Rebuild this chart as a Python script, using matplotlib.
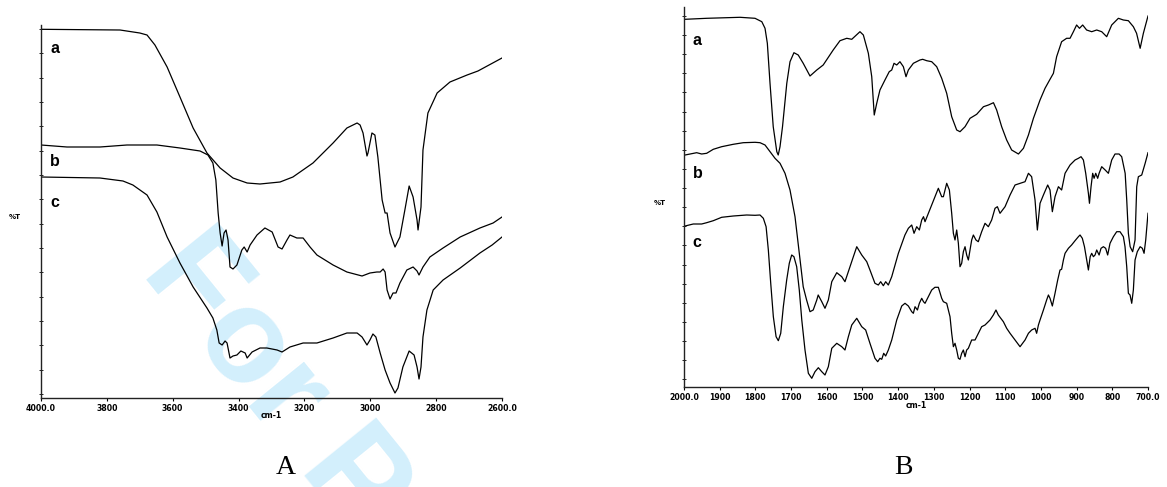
import matplotlib
matplotlib.use("Agg")
import matplotlib.pyplot as plt
import numpy as np

# ---------------- Panel A (4000-2600 cm-1) ----------------
A_a_wn = [4000, 3760, 3700, 3678, 3654, 3617, 3578, 3538, 3496, 3456, 3417, 3374, 3335, 3274,
          3235, 3174, 3113, 3071, 3040, 3031, 3022, 3010, 3007, 2995, 2986, 2977, 2964, 2955,
          2949, 2940, 2925, 2910, 2895, 2882, 2870, 2858, 2855, 2846, 2840, 2825, 2797, 2758,
          2706, 2673, 2600]
A_a_T = [368.7, 368, 365, 363, 353, 331, 301, 270, 245, 230, 220, 215, 214, 216,
         221, 235, 255, 270, 275, 273, 265, 242, 245, 265, 263, 241, 198, 185,
         185, 165, 151, 161, 188, 212, 201, 178, 168, 191, 248, 285, 305, 316,
         323, 327, 340]

A_b_wn = [4000, 3921, 3821, 3739, 3648, 3578, 3517, 3493, 3478, 3469, 3462, 3456, 3450, 3444,
          3438, 3432, 3426, 3417, 3405, 3390, 3383, 3374, 3365, 3344, 3320, 3298, 3280, 3268,
          3253, 3244, 3223, 3204, 3183, 3162, 3113, 3071, 3025, 3001, 2980, 2970, 2961, 2955,
          2949, 2940, 2931, 2922, 2910, 2889, 2870, 2858, 2852, 2840, 2819, 2779, 2727, 2667,
          2627, 2600]
A_b_T = [253, 251, 251, 253, 253, 250, 247, 243, 235, 218, 185, 165, 152, 165,
         168, 158, 131, 129, 133, 148, 151, 146, 153, 163, 170, 166, 151, 149,
         158, 163, 160, 160, 151, 143, 133, 126, 122, 125, 126, 126, 129, 126,
         108, 99, 105, 105, 115, 128, 131, 127, 123, 131, 141, 150, 161, 170,
         175, 181]

A_c_wn = [4000, 3821, 3751, 3721, 3678, 3648, 3617, 3578, 3538, 3496, 3478, 3466, 3459, 3450,
          3441, 3435, 3426, 3417, 3405, 3393, 3380, 3374, 3359, 3335, 3314, 3283, 3268, 3244,
          3204, 3162, 3113, 3071, 3040, 3025, 3010, 3001, 2992, 2983, 2970, 2955, 2940, 2925,
          2916, 2901, 2882, 2867, 2858, 2852, 2846, 2840, 2828, 2809, 2779, 2727, 2667, 2630,
          2600]
A_c_T = [221, 220, 217, 213, 203, 186, 161, 135, 111, 90, 80, 68, 55, 53,
         57, 55, 40, 42, 43, 47, 45, 40, 46, 50, 50, 48, 46, 51,
         55, 55, 60, 65, 65, 61, 53, 58, 64, 61, 45, 28, 15, 5,
         10, 31, 47, 43, 31, 19, 31, 61, 88, 108, 118, 130, 145, 153,
         161]

# ---------------- Panel B (2000-700 cm-1) ----------------
B_a_wn = [1997, 1936.5, 1843, 1801, 1782, 1773, 1766.5, 1759, 1750, 1740, 1736, 1731, 1724, 1712,
          1703, 1692, 1680, 1666, 1647, 1628, 1610, 1582, 1563, 1544, 1530, 1507, 1497.5, 1483.5,
          1474, 1467, 1460, 1451, 1437, 1425, 1418, 1411.6, 1404, 1395, 1385.4, 1378, 1371.4,
          1357.4, 1339, 1331.3, 1320, 1306, 1292, 1278, 1264, 1250, 1236, 1226.7, 1212.6, 1198.6,
          1180, 1161, 1147, 1133, 1124, 1110, 1096, 1082, 1063, 1049, 1035, 1021, 1002.5, 988.5,
          974.5, 965, 956, 942, 928, 918.4, 909, 900, 892, 883, 872, 857.7, 843.7, 829.7, 815.7,
          801.7, 783, 769, 755, 741, 732, 722, 713, 700]
B_a_T = [367.7, 368.7, 369.7, 368.7, 365.3, 358.7, 343.7, 303.7, 260.3, 235.3, 232, 240.3, 260.3, 303.7,
         325.3, 334.3, 332, 323.7, 311, 317, 322, 337, 346.3, 348.7, 347.7, 355.3, 352, 333.7,
         310.3, 272, 283.7, 297, 307, 315.3, 317, 323.7, 322, 325.3, 320.3, 310.3, 317,
         323.7, 327, 327.7, 326.3, 325.3, 320.3, 308.7, 293.7, 270.3, 257, 255.3, 260.3, 268.7,
         272.7, 280.3, 282, 284.3, 277, 260.3, 247, 237, 233, 238.7, 252, 268.7, 287, 298.7,
         307.7, 313.7, 330.3, 345.3, 348.7, 348.7, 355.3, 362, 358.7, 362, 357, 355.3, 357, 355.3, 350.3,
         362, 368.7, 367, 366.3, 360.3, 353.7, 338.7, 353.7, 371]

B_b_wn = [1997, 1983, 1964.5, 1950.5, 1936.5, 1918, 1894.5, 1862, 1834, 1801, 1787, 1773, 1759, 1745,
          1731, 1717, 1703, 1689, 1677, 1666, 1656.5, 1647, 1638, 1628, 1624, 1614, 1605, 1595.6,
          1586, 1572, 1558, 1549, 1535, 1525.5, 1516, 1502, 1488, 1479, 1465, 1455.5, 1449, 1441.5,
          1435, 1427.5, 1418, 1399.4, 1381, 1371.4, 1362, 1355.5, 1348, 1340.6, 1334, 1329, 1324.7,
          1315.4, 1306, 1297, 1287.4, 1278, 1273.3, 1264, 1256.5, 1250, 1245.3, 1240.7, 1236, 1231.3,
          1226.7, 1222, 1217.3, 1212.6, 1208, 1203.3, 1194, 1189.3, 1182, 1175.5, 1166, 1156.6,
          1147.3, 1138, 1128.6, 1122, 1114.6, 1100.5, 1086.5, 1072.5, 1058.5, 1044.5, 1035, 1026,
          1016.5, 1010, 1002.5, 993, 981, 974.5, 968, 960.5, 951, 942, 932.4, 918.4, 904.4, 895,
          887.6, 881, 874.5, 867, 864, 859.6, 855, 851, 846.5, 841, 837, 829.7, 820, 811, 801.7,
          792.4, 781, 773.7, 764, 759.6, 755, 750, 743, 736.3, 731.6, 727, 717.6, 708, 700]
B_b_T = [232, 233, 234.3, 233, 233.7, 237.7, 240.3, 242.7, 244.3, 244.7, 244.3, 242, 235.3, 228.7,
         223.7, 213.7, 197, 170.3, 133.7, 100.3, 87, 75.3, 77, 87, 92, 85.3, 78.7, 87,
         105.3, 114.3, 110.3, 105.3, 120.3, 130.3, 140.3, 132, 125.3, 117, 103.7, 102, 105.3, 101.3,
         105.3, 102, 110.3, 133.7, 152, 158.7, 162, 153.7, 160.3, 157, 167, 170.3, 165.3,
         173.7, 182, 190.3, 198.7, 190.3, 190.3, 203.7, 197, 173.7, 153.7, 147, 157, 143.7,
         120.3, 123.7, 135.3, 140.3, 132, 127, 147, 152, 147, 145.3, 155.3, 163.7,
         160.3, 167, 178.7, 180.3, 173.7, 180.3, 192, 202, 203.7, 205.3, 213.7, 210.3,
         187, 157, 183.7, 192, 202, 197, 175.3, 190.3, 200.3, 197, 213.7, 222, 227, 228.7,
         230.3, 227, 213.7, 193.7, 183.7, 200.3, 213.7, 208.7, 213.7, 208.7, 213.7, 220.3, 217, 213.7, 227,
         233, 233, 230.3, 213.7, 187, 153.7, 140.3, 135.3, 147, 200.3, 210.3, 212, 223.7, 234.3]

B_c_wn = [1997, 1974, 1950.5, 1936.5, 1918, 1894.5, 1862, 1824.4, 1801, 1787, 1777.7, 1770, 1763.7, 1757,
          1749.7, 1742, 1735.7, 1729, 1721.7, 1712.3, 1705, 1698.3, 1692, 1684.3, 1677, 1670, 1661,
          1651.6, 1642, 1633, 1623.6, 1614, 1605, 1595.6, 1586, 1572, 1558, 1549, 1539.5, 1530, 1516,
          1502, 1491, 1479, 1465, 1457.3, 1451, 1446, 1440.5, 1435, 1427.5, 1418, 1404, 1390, 1380.8,
          1371.4, 1362, 1357.4, 1352.7, 1346, 1340.6, 1334, 1329, 1324.7, 1315.4, 1306, 1297, 1287.4,
          1278, 1273.3, 1264, 1254.7, 1250, 1245.3, 1240.7, 1236, 1231.3, 1226.7, 1222, 1217.3,
          1212.6, 1208, 1203.3, 1194, 1184.6, 1175.3, 1166, 1156.6, 1142.6, 1133.3, 1126, 1119.4,
          1105.2, 1096, 1086.5, 1072.5, 1058.5, 1044.5, 1035, 1026, 1016.5, 1012, 1007, 1002.5, 993,
          984, 979, 974.5, 968, 960.5, 953, 946.5, 942, 937, 932.4, 923, 914, 904.4, 895, 890.4, 884,
          878, 871.7, 867, 862, 857.7, 853, 848.4, 843.7, 837, 831.6, 825, 818.6, 813, 806.4, 797,
          787.7, 778.4, 769, 764.4, 759.6, 755, 750.3, 745.6, 741, 736.3, 730, 722, 715.8, 711, 706.4, 700]
B_c_T = [161, 163, 163, 164.3, 166.3, 169.7, 171, 172, 171.7, 172, 168.7, 160.3, 137, 103.7,
         70.3, 50.3, 46.3, 53.7, 80.3, 107, 123.7, 132, 130.3, 120.3, 97, 67, 37,
         13.7, 8.7, 15.3, 19.3, 15.3, 12, 20.3, 38.7, 43.7, 40.3, 37, 50.3, 62, 68.7,
         60.3, 57, 43.7, 28.7, 25.3, 28.7, 27.7, 33.7, 31, 37, 47, 67, 81, 83.7,
         81, 75.3, 73.7, 80.3, 77, 83.7, 88.7, 85.3, 83.7, 90.3, 97, 99.7, 99.7,
         88.7, 85.3, 83.7, 70.3, 53.7, 40.3, 43.7, 37, 28.7, 27.7, 33.7, 37,
         30.3, 37, 38.7, 47, 47, 53.7, 60.3, 62, 67, 72, 77, 72,
         65.3, 58.7, 53.7, 47, 40.3, 47, 53.7, 57, 58.7, 53.7, 62, 67, 77,
         87, 92, 88.7, 81, 93.7, 107, 117, 117.7, 127, 133.7, 138.7, 142, 146.3, 150.3, 152, 148.7,
         140.3, 127, 117, 130.3, 133.7, 130.3, 132, 137, 132, 138.7, 140.3, 138.7, 132, 143.7, 150.3,
         155.3, 155.3, 150.3, 140.3, 120.3, 93.7, 92, 83.7, 97, 127, 135.3, 140.3, 138.7, 133.7, 147, 173.7]

A_ticks = [4000, 3800, 3600, 3400, 3200, 3000, 2800, 2600]
A_ticklabels = ["4000.0", "3800", "3600", "3400", "3200", "3000", "2800", "2600.0"]
B_ticks = [2000, 1900, 1800, 1700, 1600, 1500, 1400, 1300, 1200, 1100, 1000, 900, 800, 700]
B_ticklabels = ["2000.0", "1900", "1800", "1700", "1600", "1500", "1400", "1300", "1200",
                "1100", "1000", "900", "800", "700.0"]
curve_labels = ["a", "b", "c"]

W, H = 1167, 487
fig = plt.figure(figsize=(W / 100, H / 100), dpi=100)

# watermark (behind everything)
fig.text(140 / W, 1 - 272 / H, "For P", fontsize=96, fontweight="bold",
         family="Liberation Sans", color="#d3effc", rotation=-51,
         rotation_mode="anchor", ha="left", va="baseline", zorder=-5)


def make_axes(rect, xlim, ylim, ticks, labels, yticks):
    ax = fig.add_axes(rect)
    ax.set_facecolor("none")
    ax.set_xlim(*xlim)
    ax.set_ylim(*ylim)
    for s in ("top", "right"):
        ax.spines[s].set_visible(False)
    for s in ("left", "bottom"):
        ax.spines[s].set_linewidth(1.0)
        ax.spines[s].set_color("#222222")
    ax.set_xticks(ticks)
    ax.set_xticklabels(labels, fontsize=5.6, fontweight="bold", family="DejaVu Sans")
    ax.tick_params(axis="x", direction="out", length=2.5, width=0.8, pad=2)
    ax.set_yticks(yticks)
    ax.set_yticklabels([])
    ax.tick_params(axis="y", direction="inout", length=3, width=0.6)
    return ax


# Panel A
axA = make_axes([41 / W, 1 - 398 / H, (502 - 41) / W, (398 - 25) / H],
                (4000, 2600), (0, 373), A_ticks, A_ticklabels, np.linspace(4, 369, 16))
for wn, T in ((A_a_wn, A_a_T), (A_b_wn, A_b_T), (A_c_wn, A_c_T)):
    axA.plot(wn, T, color="black", lw=0.9)
for lab, yf in zip(curve_labels, (0.938, 0.635, 0.523)):
    axA.text(0.02, yf, lab, transform=axA.transAxes, fontsize=11.5, fontweight="bold",
             family="Liberation Sans", ha="left", va="center")
axA.text(0.5, -(415 - 398) / 373, "cm-1", transform=axA.transAxes, fontsize=5.6,
         fontweight="bold", ha="center", va="center")

# Panel B
axB = make_axes([684 / W, 1 - 387 / H, (1148 - 684) / W, (387 - 7) / H],
                (2000, 700), (0, 380), B_ticks, B_ticklabels, np.linspace(7.7, 371, 20))
for wn, T in ((B_a_wn, B_a_T), (B_b_wn, B_b_T), (B_c_wn, B_c_T)):
    axB.plot(wn, T, color="black", lw=0.9)
for lab, yf in zip(curve_labels, (0.911, 0.561, 0.379)):
    axB.text(0.019, yf, lab, transform=axB.transAxes, fontsize=11.5, fontweight="bold",
             family="Liberation Sans", ha="left", va="center")
axB.text(0.5, -(405 - 387) / 380, "cm-1", transform=axB.transAxes, fontsize=5.6,
         fontweight="bold", ha="center", va="center")

# %T labels
fig.text(15 / W, 1 - 217 / H, "%T", fontsize=5, fontweight="bold", ha="center", va="center")
fig.text(660 / W, 1 - 203 / H, "%T", fontsize=5, fontweight="bold", ha="center", va="center")

# Panel letters
fig.text(286 / W, 1 - 468 / H, "A", fontsize=20, family="Liberation Serif", ha="center", va="center")
fig.text(903 / W, 1 - 468 / H, "B", fontsize=20, family="Liberation Serif", ha="center", va="center")

fig.savefig("out.png", dpi=100)
